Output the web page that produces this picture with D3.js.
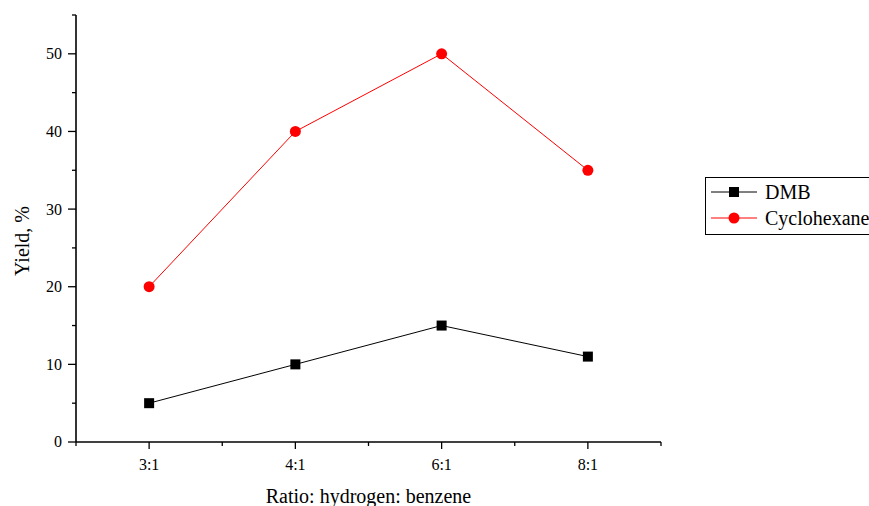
<!DOCTYPE html>
<html><head><meta charset="utf-8">
<script src="https://cdn.jsdelivr.net/npm/d3@7"></script>
<style>body{margin:0;background:#fff;overflow:hidden}svg{display:block}</style>
</head><body>
<script>
const categories = ["3:1","4:1","6:1","8:1"];
const dmb = [5,10,15,11];
const cyclohexane = [20,40,50,35];
const yTicks = [0,10,20,30,40,50];
const seriesNames = ["DMB","Cyclohexane"];

const FONT="'Liberation Serif', 'Times New Roman', Tinos, 'DejaVu Serif', serif";
const W=869,H=506;
const svg=d3.select("body").append("svg").attr("width",W).attr("height",H)
  .attr("font-family",FONT).style("font-family",FONT);
const x0=76,x1=661,yTop=15,yBot=442;
const x=d3.scaleLinear().domain([0,4]).range([x0,x1]);
const y=d3.scaleLinear().domain([0,55]).range([yBot,yTop]);

// axes
const ga=svg.append("g");
ga.append("line").attr("x1",x0).attr("x2",x0).attr("y1",yTop).attr("y2",yBot).attr("stroke","#000").attr("stroke-width",1.6);
ga.append("line").attr("x1",x0).attr("x2",x1).attr("y1",yBot).attr("y2",yBot).attr("stroke","#000").attr("stroke-width",1.6);
// y ticks
d3.range(0,56,5).forEach(v=>{
  const major=v%10===0;
  ga.append("line").attr("x1",x0-(major?8:4)).attr("x2",x0).attr("y1",y(v)).attr("y2",y(v)).attr("stroke","#000").attr("stroke-width",1.3);
});
ga.selectAll(".yt").data(yTicks).join("text").attr("x",x0-14).attr("y",d=>y(d)).attr("dy","0.34em").attr("text-anchor","end").attr("font-size",16).text(d=>d);
// x ticks
d3.range(0,4.01,0.5).forEach(v=>{
  const major=(v*2)%2===1;
  ga.append("line").attr("x1",x(v)).attr("x2",x(v)).attr("y1",yBot).attr("y2",yBot+(major?7:4)).attr("stroke","#000").attr("stroke-width",1.3);
});
ga.selectAll(".xt").data(categories).join("text").attr("x",(d,i)=>x(i+0.5)).attr("y",470).attr("text-anchor","middle").attr("font-size",16).text(d=>d);
svg.append("text").attr("x",(x0+x1)/2).attr("y",503).attr("text-anchor","middle").attr("font-size",20).text("Ratio: hydrogen: benzene");
svg.append("text").attr("transform",`translate(29,241) rotate(-90)`).attr("text-anchor","middle").attr("font-size",20).text("Yield, %");

function series(data,color,shape){
  const line=d3.line().x((d,i)=>x(i+0.5)).y(d=>y(d));
  svg.append("path").datum(data).attr("d",line).attr("fill","none").attr("stroke",color).attr("stroke-width",1);
  const g=svg.append("g");
  data.forEach((d,i)=>{
    if(shape==="sq") g.append("rect").attr("x",x(i+0.5)-5).attr("y",y(d)-5).attr("width",10).attr("height",10).attr("fill",color);
    else g.append("circle").attr("cx",x(i+0.5)).attr("cy",y(d)).attr("r",5.5).attr("fill",color);
  });
}
series(dmb,"#000","sq");
series(cyclohexane,"#ff0000","ci");

// legend
const lg=svg.append("g");
lg.append("rect").attr("x",705.5).attr("y",177.5).attr("width",200).attr("height",57).attr("fill","none").attr("stroke","#000").attr("stroke-width",1);
const leg=[{n:seriesNames[0],c:"#000",s:"sq",yy:192},{n:seriesNames[1],c:"#ff0000",s:"ci",yy:218}];
leg.forEach(e=>{
  lg.append("line").attr("x1",711).attr("x2",757).attr("y1",e.yy).attr("y2",e.yy).attr("stroke",e.c).attr("stroke-width",1);
  if(e.s==="sq") lg.append("rect").attr("x",729).attr("y",e.yy-5).attr("width",10).attr("height",10).attr("fill",e.c);
  else lg.append("circle").attr("cx",734).attr("cy",e.yy).attr("r",5.5).attr("fill",e.c);
  lg.append("text").attr("x",765).attr("y",e.yy).attr("dy","0.34em").attr("font-size",20).text(e.n);
});
</script>
</body></html>
